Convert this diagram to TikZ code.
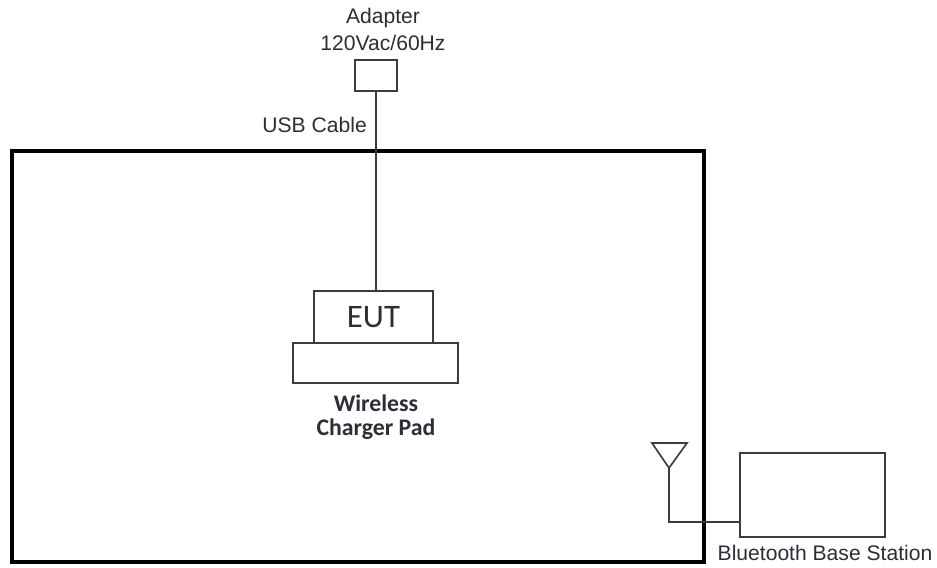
\documentclass[tikz,border=0pt]{standalone}
\usepackage{fontspec}
\setmainfont{Liberation Sans}
\newfontfamily\padfont{Carlito}
\usetikzlibrary{positioning}
\definecolor{lineclr}{RGB}{60, 60, 60}
\definecolor{txtclr}{RGB}{45, 45, 55}

\begin{document}
\begin{tikzpicture}[
    x=0.03cm, y=-0.03cm,
    box/.style={draw=lineclr, line width=1.4pt, fill=white, inner sep=0pt},
    room/.style={draw=black, line width=3.4pt, inner sep=0pt,
                 minimum width=20.76cm, minimum height=12.33cm},
    lbl/.style={text=txtclr, font=\fontsize{18}{23}\selectfont, inner sep=0pt, align=center},
    wire/.style={draw=lineclr, line width=1.4pt}
  ]
  \useasboundingbox (0,0) rectangle (937,567);

  % Nodes
  \node[room] (room) at (358,356.5) {};
  \node[box, minimum width=1.26cm, minimum height=0.93cm] (adapter) at (376,75.5) {};
  \node[box, minimum width=3.57cm, minimum height=1.56cm,
        font=\padfont\fontsize{28}{30}\selectfont, text=txtclr] (eut) at (373.5,317) {EUT};
  \node[box, minimum width=4.95cm, minimum height=1.2cm] (pad) at (375.5,363) {};
  \node[box, minimum width=4.35cm, minimum height=2.52cm] (bt) at (812.5,495) {};

  % Labels
  \node[lbl] (adlbl) at (383,29.5) {Adapter\\120Vac/60Hz};
  \node[lbl, anchor=east] (usblbl) at (367,125) {USB Cable};
  \node[lbl, font=\padfont\bfseries\fontsize{20.3}{20.3}\selectfont] (padlbl) at (376,417)
       {Wireless\\Charger Pad};
  \node[lbl] (btlbl) at (825,553) {Bluetooth Base Station};

  % Cable
  \draw[wire] (adapter.south) -- (adapter.south |- eut.north);

  % Antenna
  \coordinate (ant) at (669,468);
  \coordinate (feed) at (740,522);
  \draw[wire, line join=miter] (652,443) -- (687,443) -- (ant) -- cycle;
  \draw[wire] (ant) |- (feed);
\end{tikzpicture}
\end{document}
